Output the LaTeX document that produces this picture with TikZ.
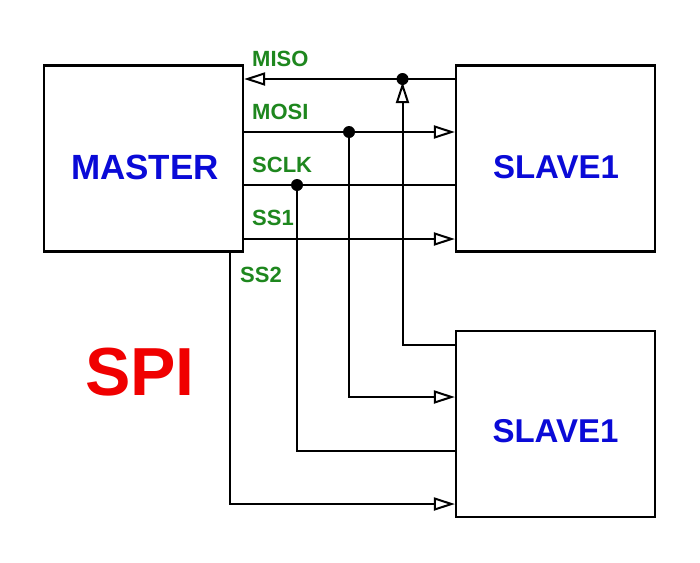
\documentclass[tikz,border=0pt]{standalone}
\usepackage{fontspec}
\setmainfont{Liberation Sans}
\usetikzlibrary{arrows.meta}
\definecolor{sigGreen}{RGB}{30,135,30}
\definecolor{boxBlue}{RGB}{10,10,215}
\definecolor{spiRed}{RGB}{240,0,0}
\begin{document}
\begin{tikzpicture}[x=1pt,y=-1pt,
  blk/.style={draw=black, line width=2.2pt, minimum width=199pt, minimum height=186pt, inner sep=0pt},
  wire/.style={draw=black, line width=2pt},
  tri/.style={-{Triangle[open, length=21pt, width=13pt, line width=2pt]}},
  siglabel/.style={anchor=base west, inner sep=0pt, text=sigGreen, font=\fontsize{22}{22}\selectfont\bfseries},
  blktext/.style={anchor=base, inner sep=0pt, text=boxBlue, font=\fontsize{34}{34}\selectfont\bfseries},
  dot/.style={fill=black}
]
\useasboundingbox (0,0) rectangle (700,562);
\fill[white] (0,0) rectangle (700,562);

% blocks
\node[blk] (master) at (143.5,158.5) {};
\node[blk] (slave1) at (555.5,158.5) {};
\node[blk] (slave2) at (555.5,424) {};

\node[blktext, font=\fontsize{35}{35}\selectfont\bfseries] (mastertxt) at (145,179) {MASTER};
\node[blktext, font=\fontsize{33}{33}\selectfont\bfseries] (slave1txt) at (556,178) {SLAVE1};
\node[blktext, font=\fontsize{33}{33}\selectfont\bfseries] (slave2txt) at (555.5,442) {SLAVE1};
\node[anchor=base, inner sep=0pt, text=spiRed, font=\fontsize{68}{68}\selectfont\bfseries] (spi) at (140,395) {SPI};

% labels
\node[siglabel] (lmiso) at (252,66) {MISO};
\node[siglabel] (lmosi) at (252,119) {MOSI};
\node[siglabel] (lsclk) at (252,172) {SCLK};
\node[siglabel] (lss1) at (252,225) {SS1};
\node[siglabel] (lss2) at (240,282) {SS2};

% junctions
\coordinate (misoDot) at (402.5,79);
\coordinate (mosiDot) at (349,132);
\coordinate (sclkDot) at (297,185);
\coordinate (misoTip) at (402.5,82);

% MISO
\draw[wire, tri] (slave1.west |- 0,79) -- (master.east |- 0,79);
\draw[wire, tri] (slave2.west |- 0,344.5) -| (misoTip);
% MOSI
\draw[wire, tri] (master.east |- 0,132) -- (slave1.west |- 0,132);
\draw[wire, tri] (mosiDot) |- (slave2.west |- 0,397);
% SCLK
\draw[wire] (master.east |- 0,185) -- (slave1.west |- 0,185);
\draw[wire] (sclkDot) |- (slave2.west |- 0,451);
% SS1
\draw[wire, tri] (master.east |- 0,239) -- (slave1.west |- 0,239);
% SS2
\draw[wire, tri] (master.south -| 230,0) |- (slave2.west |- 0,504);

\fill[dot] (misoDot) circle (6pt);
\fill[dot] (mosiDot) circle (6pt);
\fill[dot] (sclkDot) circle (6pt);
\end{tikzpicture}
\end{document}
